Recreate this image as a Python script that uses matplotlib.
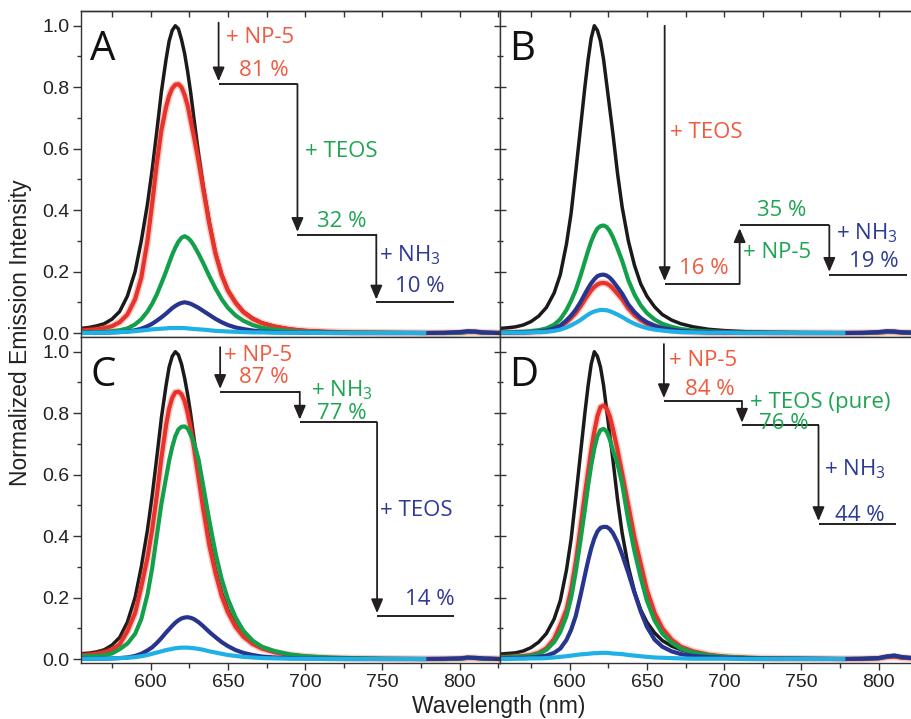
import numpy as np
import matplotlib
matplotlib.use("Agg")
import matplotlib.pyplot as plt
from matplotlib.ticker import MultipleLocator, FormatStrFormatter

plt.rcParams['font.family'] = ['Liberation Sans', 'DejaVu Sans']
plt.rcParams['mathtext.fontset'] = 'custom'
plt.rcParams['mathtext.rm'] = 'Open Sans'
plt.rcParams['mathtext.it'] = 'Open Sans:italic'
plt.rcParams['mathtext.bf'] = 'Open Sans:bold'

nan = np.nan

# emission spectra, normalized to the starting dye (black)
wavelength = [555, 560, 565, 570, 575, 580, 585, 590, 594, 598,
              601, 604, 607, 610, 612, 614, 616, 618, 620, 622,
              624, 626, 628, 631, 634, 638, 642, 646, 650, 655,
              660, 666, 672, 680, 690, 700, 715, 730, 750, 777,
              790, 800, 805, 810, 815, 826]

# --- A: NP-5, then TEOS, then NH3
a_black = [0.015, 0.018, 0.023, 0.030, 0.045, 0.070, 0.120, 0.200, 0.300, 0.420,
           0.530, 0.655, 0.785, 0.890, 0.950, 0.985, 1.000, 0.990, 0.955, 0.910,
           0.850, 0.780, 0.700, 0.585, 0.480, 0.360, 0.260, 0.190, 0.140, 0.100,
           0.070, 0.048, 0.033, 0.022, 0.013, 0.008, 0.004, 0.002, 0.001, 0.000,
           0.000, 0.001, 0.003, 0.003, 0.001, 0.000]
a_red = [0.008, 0.010, 0.012, 0.016, 0.022, 0.035, 0.060, 0.110, 0.180, 0.300,
         0.420, 0.550, 0.660, 0.735, 0.772, 0.796, 0.808, 0.810, 0.800, 0.775,
         0.740, 0.690, 0.640, 0.560, 0.470, 0.355, 0.258, 0.188, 0.138, 0.098,
         0.068, 0.046, 0.032, 0.021, 0.012, 0.007, 0.004, 0.002, 0.001, 0.000,
         0.000, 0.001, 0.003, 0.003, 0.001, 0.000]
a_green = [0.002, 0.002, 0.003, 0.004, 0.006, 0.009, 0.015, 0.028, 0.045, 0.070,
           0.095, 0.125, 0.162, 0.200, 0.228, 0.255, 0.278, 0.297, 0.310, 0.315,
           0.310, 0.300, 0.285, 0.258, 0.228, 0.185, 0.145, 0.110, 0.082, 0.057,
           0.040, 0.026, 0.017, 0.011, 0.006, 0.004, 0.002, 0.001, 0.001, 0.000,
           0.000, 0.001, 0.004, 0.004, 0.001, 0.000]
a_blue = [0.001, 0.001, 0.001, 0.001, 0.002, 0.003, 0.005, 0.009, 0.014, 0.022,
          0.030, 0.040, 0.051, 0.063, 0.072, 0.081, 0.088, 0.094, 0.098, 0.100,
          0.098, 0.095, 0.090, 0.082, 0.072, 0.059, 0.046, 0.035, 0.026, 0.018,
          0.013, 0.008, 0.005, 0.003, 0.002, 0.001, 0.001, 0.000, 0.000, 0.000,
          0.001, 0.003, 0.006, 0.005, 0.002, 0.000]
a_cyan = [0.000, 0.000, 0.001, 0.001, 0.002, 0.003, 0.004, 0.006, 0.008, 0.010,
          0.012, 0.013, 0.014, 0.015, 0.016, 0.016, 0.016, 0.016, 0.016, 0.016,
          0.015, 0.014, 0.013, 0.012, 0.011, 0.009, 0.007, 0.006, 0.005, 0.004,
          0.003, 0.002, 0.002, 0.001, 0.001, 0.001, 0.000, 0.000, 0.000, 0.000,
          nan, nan, nan, nan, nan, nan]
a_steps = [81, 32, 10]

# --- B: TEOS, then NP-5, then NH3
b_black = [0.015, 0.017, 0.020, 0.026, 0.037, 0.055, 0.083, 0.130, 0.190, 0.290,
           0.390, 0.525, 0.665, 0.805, 0.890, 0.960, 1.000, 0.985, 0.950, 0.890,
           0.810, 0.730, 0.650, 0.520, 0.410, 0.300, 0.220, 0.160, 0.120, 0.085,
           0.060, 0.042, 0.030, 0.020, 0.012, 0.008, 0.004, 0.002, 0.001, 0.000,
           0.000, 0.002, 0.004, 0.005, 0.003, 0.001]
b_red = [0.001, 0.001, 0.001, 0.002, 0.003, 0.004, 0.007, 0.013, 0.021, 0.035,
         0.049, 0.065, 0.086, 0.110, 0.125, 0.139, 0.150, 0.158, 0.162, 0.163,
         0.161, 0.155, 0.145, 0.128, 0.110, 0.080, 0.058, 0.042, 0.030, 0.021,
         0.014, 0.009, 0.006, 0.004, 0.002, 0.001, 0.001, 0.000, 0.000, 0.000,
         0.000, 0.001, 0.003, 0.003, 0.001, 0.000]
b_green = [0.002, 0.002, 0.003, 0.004, 0.006, 0.009, 0.015, 0.027, 0.045, 0.075,
           0.105, 0.140, 0.185, 0.235, 0.268, 0.298, 0.322, 0.340, 0.348, 0.350,
           0.345, 0.332, 0.312, 0.275, 0.235, 0.172, 0.125, 0.090, 0.065, 0.044,
           0.030, 0.020, 0.013, 0.008, 0.005, 0.003, 0.002, 0.001, 0.001, 0.000,
           0.000, 0.002, 0.004, 0.004, 0.002, 0.000]
b_blue = [0.001, 0.001, 0.002, 0.002, 0.003, 0.005, 0.008, 0.015, 0.024, 0.041,
          0.057, 0.076, 0.100, 0.128, 0.146, 0.162, 0.175, 0.185, 0.189, 0.190,
          0.187, 0.180, 0.169, 0.149, 0.128, 0.093, 0.068, 0.049, 0.035, 0.024,
          0.016, 0.011, 0.007, 0.004, 0.003, 0.002, 0.001, 0.001, 0.000, 0.000,
          0.001, 0.003, 0.006, 0.005, 0.002, 0.000]
b_cyan = [0.001, 0.001, 0.001, 0.001, 0.002, 0.003, 0.004, 0.007, 0.011, 0.018,
          0.025, 0.033, 0.042, 0.053, 0.060, 0.066, 0.070, 0.073, 0.075, 0.075,
          0.074, 0.071, 0.067, 0.060, 0.052, 0.040, 0.030, 0.022, 0.016, 0.011,
          0.008, 0.005, 0.003, 0.002, 0.001, 0.001, 0.000, 0.000, 0.000, 0.000,
          nan, nan, nan, nan, nan, nan]
b_steps = [16, 35, 19]

# --- C: NP-5, then NH3, then TEOS
c_black = [0.017, 0.019, 0.023, 0.030, 0.045, 0.070, 0.120, 0.200, 0.300, 0.420,
           0.530, 0.655, 0.785, 0.890, 0.950, 0.985, 1.000, 0.990, 0.960, 0.915,
           0.860, 0.795, 0.720, 0.610, 0.505, 0.385, 0.290, 0.215, 0.160, 0.110,
           0.077, 0.052, 0.036, 0.023, 0.014, 0.008, 0.004, 0.002, 0.001, 0.000,
           0.000, 0.001, 0.003, 0.003, 0.001, 0.000]
c_red = [0.012, 0.014, 0.017, 0.022, 0.030, 0.048, 0.090, 0.150, 0.235, 0.330,
         0.420, 0.530, 0.655, 0.760, 0.815, 0.850, 0.868, 0.870, 0.862, 0.840,
         0.800, 0.750, 0.690, 0.590, 0.490, 0.370, 0.280, 0.205, 0.152, 0.105,
         0.073, 0.049, 0.034, 0.022, 0.013, 0.008, 0.004, 0.002, 0.001, 0.000,
         0.000, 0.001, 0.003, 0.003, 0.001, 0.000]
c_green = [0.008, 0.009, 0.010, 0.012, 0.018, 0.032, 0.050, 0.082, 0.130, 0.210,
           0.295, 0.400, 0.505, 0.590, 0.645, 0.690, 0.725, 0.747, 0.756, 0.757,
           0.750, 0.730, 0.705, 0.650, 0.565, 0.450, 0.345, 0.260, 0.195, 0.135,
           0.092, 0.060, 0.040, 0.026, 0.015, 0.009, 0.005, 0.003, 0.001, 0.000,
           0.000, 0.001, 0.004, 0.003, 0.001, 0.000]
c_blue = [0.001, 0.001, 0.001, 0.001, 0.002, 0.003, 0.005, 0.010, 0.017, 0.028,
          0.038, 0.052, 0.068, 0.086, 0.097, 0.108, 0.118, 0.126, 0.132, 0.135,
          0.136, 0.134, 0.130, 0.120, 0.107, 0.088, 0.071, 0.055, 0.042, 0.029,
          0.020, 0.013, 0.008, 0.005, 0.003, 0.002, 0.001, 0.001, 0.000, 0.000,
          0.001, 0.002, 0.005, 0.004, 0.002, 0.000]
c_cyan = [0.000, 0.001, 0.001, 0.001, 0.002, 0.003, 0.004, 0.006, 0.009, 0.013,
          0.017, 0.021, 0.025, 0.029, 0.031, 0.033, 0.035, 0.036, 0.037, 0.037,
          0.037, 0.036, 0.035, 0.033, 0.030, 0.025, 0.021, 0.017, 0.013, 0.010,
          0.007, 0.005, 0.003, 0.002, 0.001, 0.001, 0.000, 0.000, 0.000, 0.000,
          nan, nan, nan, nan, nan, nan]
c_steps = [87, 77, 14]

# --- D: NP-5, then pure TEOS, then NH3
d_black = [0.016, 0.018, 0.020, 0.026, 0.037, 0.055, 0.083, 0.130, 0.190, 0.290,
           0.390, 0.525, 0.665, 0.805, 0.890, 0.960, 1.000, 0.985, 0.950, 0.890,
           0.810, 0.730, 0.650, 0.520, 0.410, 0.300, 0.220, 0.160, 0.120, 0.085,
           0.060, 0.042, 0.030, 0.020, 0.012, 0.008, 0.004, 0.002, 0.001, 0.000,
           0.001, 0.003, 0.006, 0.008, 0.004, 0.001]
d_red = [0.006, 0.007, 0.008, 0.010, 0.013, 0.020, 0.035, 0.065, 0.110, 0.160,
         0.225, 0.315, 0.425, 0.540, 0.610, 0.680, 0.740, 0.790, 0.820, 0.825,
         0.815, 0.790, 0.750, 0.680, 0.605, 0.500, 0.395, 0.310, 0.225, 0.150,
         0.100, 0.063, 0.040, 0.025, 0.014, 0.008, 0.004, 0.002, 0.001, 0.000,
         0.000, 0.002, 0.006, 0.008, 0.004, 0.001]
d_green = [0.005, 0.006, 0.007, 0.008, 0.011, 0.017, 0.030, 0.055, 0.088, 0.140,
           0.200, 0.285, 0.385, 0.490, 0.565, 0.630, 0.685, 0.725, 0.745, 0.749,
           0.740, 0.715, 0.680, 0.635, 0.570, 0.450, 0.350, 0.265, 0.190, 0.125,
           0.083, 0.053, 0.034, 0.021, 0.012, 0.007, 0.004, 0.002, 0.001, 0.000,
           0.001, 0.003, 0.008, 0.011, 0.006, 0.001]
d_blue = [0.002, 0.002, 0.003, 0.004, 0.005, 0.007, 0.011, 0.020, 0.034, 0.062,
          0.095, 0.140, 0.205, 0.275, 0.320, 0.360, 0.392, 0.415, 0.427, 0.430,
          0.430, 0.423, 0.410, 0.380, 0.340, 0.280, 0.215, 0.155, 0.105, 0.063,
          0.040, 0.025, 0.016, 0.010, 0.006, 0.004, 0.002, 0.001, 0.001, 0.000,
          0.001, 0.003, 0.008, 0.011, 0.006, 0.001]
d_cyan = [0.000, 0.000, 0.001, 0.001, 0.002, 0.002, 0.003, 0.005, 0.007, 0.009,
          0.011, 0.013, 0.015, 0.016, 0.017, 0.018, 0.019, 0.019, 0.020, 0.020,
          0.020, 0.019, 0.018, 0.017, 0.016, 0.013, 0.011, 0.009, 0.007, 0.005,
          0.004, 0.003, 0.002, 0.001, 0.001, 0.001, 0.000, 0.000, 0.000, 0.000,
          nan, nan, nan, nan, nan, nan]
d_steps = [84, 76, 44]

line_colors = ['#1a1a1a', '#e8332a', '#12a04b', '#28358f', '#1fb0e6']
line_widths = [2.5, 3.0, 3.0, 3.0, 3.0]
text_colors = ['#f05a40', '#1fa552', '#2e3a96']
ink = '#231f20'
label_font = 'Open Sans'
label_size = 16

panels = [
    dict(letter='A', col=0, row=0,
         curves=[a_black, a_red, a_green, a_blue, a_cyan], steps=a_steps,
         start=1.01, xs=[644, 695, 746, 796],
         adds=['+ NP-5', '+ TEOS', '+ NH$_3$'],
         add_xy=[(648.5, 0.943), (700, 0.572), (747.5, 0.234)],
         pct_xy=[(673, 0.838), (723.5, 0.346), (774, 0.132)]),
    dict(letter='B', col=1, row=0,
         curves=[b_black, b_red, b_green, b_blue, b_cyan], steps=b_steps,
         start=1.0, xs=[661.5, 710, 768, 818],
         adds=['+ TEOS', '+ NP-5', '+ NH$_3$'],
         add_xy=[(665, 0.635), (712, 0.244), (772, 0.305)],
         pct_xy=[(686.5, 0.192), (737, 0.382), (797, 0.214)]),
    dict(letter='C', col=0, row=1,
         curves=[c_black, c_red, c_green, c_blue, c_cyan], steps=c_steps,
         start=1.015, xs=[645, 696.5, 746.5, 796.5],
         adds=['+ NP-5', '+ NH$_3$', '+ TEOS'],
         add_xy=[(647.5, 0.971), (703.5, 0.856), (748.5, 0.465)],
         pct_xy=[(673, 0.898), (724, 0.780), (780.5, 0.176)]),
    dict(letter='D', col=1, row=1,
         curves=[d_black, d_red, d_green, d_blue, d_cyan], steps=d_steps,
         start=1.025, xs=[661, 711.5, 761, 811],
         adds=['+ NP-5', '+ TEOS (pure)', '+ NH$_3$'],
         add_xy=[(664, 0.953), (716.5, 0.818), (764.5, 0.598)],
         pct_xy=[(690.7, 0.859), (738.5, 0.749), (787.5, 0.448)]),
]

fig = plt.figure(figsize=(9.12, 7.19), dpi=100)
lefts = [81 / 912, 500 / 912]
bottoms = [(719 - 337) / 719, (719 - 663) / 719]
width, height = 419 / 912, 326 / 719

for p in panels:
    ax = fig.add_axes([lefts[p['col']], bottoms[p['row']], width, height])
    ax.set_xlim(555, 826)
    ax.set_ylim(-0.013, 1.048)

    for i, (vals, c, lw) in enumerate(zip(p['curves'], line_colors, line_widths)):
        if i == 1:
            # soft halo under the red trace
            ax.plot(wavelength, vals, color=c, lw=lw + 2.2, alpha=0.25,
                    solid_capstyle='butt')
        ax.plot(wavelength, vals, color=c, lw=lw, solid_joinstyle='round')

    # staircase of intensity steps
    levels = [s / 100 for s in p['steps']]
    y_prev = p['start']
    for i, lev in enumerate(levels):
        x = p['xs'][i]
        ax.annotate('', xy=(x, lev), xytext=(x, y_prev),
                    arrowprops=dict(arrowstyle='-|>,head_length=0.7,head_width=0.3',
                                    mutation_scale=12, lw=1.3, color=ink,
                                    shrinkA=0, shrinkB=2))
        ax.plot([x, p['xs'][i + 1]], [lev, lev], color=ink, lw=1.4,
                solid_capstyle='butt')
        y_prev = lev

    for txt, (x, y), c in zip(p['adds'], p['add_xy'], text_colors):
        ax.text(x, y, txt, color=c, fontsize=label_size, family=label_font,
                ha='left', va='baseline')
    for s, (x, y), c in zip(p['steps'], p['pct_xy'], text_colors):
        ax.text(x, y, f'{s} %', color=c, fontsize=label_size, family=label_font,
                ha='center', va='baseline')

    ax.text(0.022, 0.85, p['letter'], transform=ax.transAxes, fontsize=29,
            family=label_font, color='#111111', ha='left', va='baseline')

    for sp in ax.spines.values():
        sp.set_color('#333333')
        sp.set_linewidth(1.0)

    ax.xaxis.set_major_locator(MultipleLocator(50))
    ax.xaxis.set_minor_locator(MultipleLocator(25))
    ax.yaxis.set_major_locator(MultipleLocator(0.2))
    ax.yaxis.set_minor_locator(MultipleLocator(0.1))
    ax.yaxis.set_major_formatter(FormatStrFormatter('%.1f'))

    ax.tick_params(axis='x', which='both', direction='out', color='#333333',
                   labelsize=14, labelcolor='#222222', pad=3,
                   labelbottom=(p['row'] == 1))
    ax.tick_params(axis='x', which='major', length=5, width=1)
    ax.tick_params(axis='x', which='minor', length=3.5, width=1)

    if p['col'] == 0:
        ax.tick_params(axis='y', which='both', direction='out', color='#333333',
                       labelsize=14, labelcolor='#222222', pad=3)
        ax.tick_params(axis='y', which='major', length=5.5, width=1)
        ax.tick_params(axis='y', which='minor', length=3, width=1)
    else:
        ax.tick_params(axis='y', which='both', direction='inout', color='#333333',
                       labelleft=False)
        ax.tick_params(axis='y', which='major', length=8, width=1)
        ax.tick_params(axis='y', which='minor', length=5, width=1)

    if p['row'] == 0:
        top = ax.secondary_xaxis('top')
        top.xaxis.set_major_locator(MultipleLocator(25))
        top.tick_params(axis='x', direction='in', length=4, width=1,
                        color='#333333', labeltop=False)
        top.spines['top'].set_color('#333333')
        top.spines['top'].set_linewidth(1.0)

fig.text(499 / 912, 6 / 719, 'Wavelength (nm)', fontsize=16.5, color='#222222',
         ha='center', va='baseline')
fig.text(21 / 912, 1 - 333 / 719, 'Normalized Emission Intensity', fontsize=16.5,
         color='#222222', rotation=90, ha='center', va='center')

fig.savefig('out.png', dpi=100)
